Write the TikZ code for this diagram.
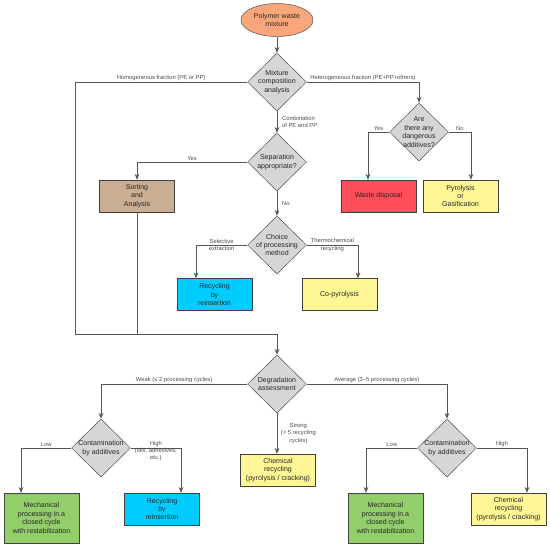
\documentclass[tikz,border=0pt]{standalone}
\usepackage{fontspec}
\setmainfont{Liberation Sans}
\usetikzlibrary{shapes.geometric, arrows.meta}
\definecolor{startorange}{RGB}{248,166,122}
\definecolor{decgray}{RGB}{214,214,214}
\definecolor{sortbrown}{RGB}{201,174,148}
\definecolor{wastered}{RGB}{255,77,90}
\definecolor{chemyellow}{RGB}{255,246,150}
\definecolor{reincyan}{RGB}{0,204,255}
\definecolor{mechgreen}{RGB}{146,206,106}
\definecolor{linegray}{RGB}{85,85,85}

\begin{document}
\begin{tikzpicture}[
    x=0.03cm, y=-0.03cm,
    every node/.style={font=\fontsize{6}{7.2}\selectfont, text=black!85},
    start/.style={ellipse, draw=black!70, fill=startorange, minimum width=2.16cm, minimum height=0.99cm, inner sep=0pt, align=center},
    decision/.style={diamond, draw=black!70, fill=decgray, minimum width=1.77cm, minimum height=1.74cm, inner sep=-3pt, align=center},
    process/.style={rectangle, draw=black!75, minimum width=2.25cm, minimum height=0.96cm, inner sep=1pt, align=center},
    tall/.style={minimum height=1.5cm},
    lbl/.style={font=\fontsize{5}{6.2}\selectfont, text=black!70, align=center, inner sep=1pt},
    flow/.style={draw=linegray, line width=0.6pt, -{Stealth[length=5pt, width=4pt]}},
    link/.style={draw=linegray, line width=0.6pt}
]
   \useasboundingbox (0,0) rectangle (550,547);

   % Nodes
   \node[start] (mix) at (277,20) {Polymer waste\\mixture};
   \node[decision] (mca) at (277,82) {Mixture\\composition\\analysis};
   \node[decision] (sep) at (277,162) {Separation\\appropriate?};
   \node[decision] (dang) at (419,132) {Are\\there any\\dangerous\\additives?};
   \node[process, fill=wastered] (waste) at (378.5,196) {Waste disposal};
   \node[process, fill=chemyellow] (gasif) at (460.5,196) {Pyrolysis\\or\\Gasification};
   \node[process, fill=sortbrown] (sort) at (137,196) {Sorting\\and\\Analysis};
   \node[decision] (choice) at (277,245) {Choice\\of processing\\method};
   \node[process, fill=reincyan] (reins) at (214.5,294.5) {Recycling\\by\\reinsertion};
   \node[process, fill=chemyellow] (copyr) at (339.5,294.5) {Co-pyrolysis};
   \coordinate (join) at (75,334);
   \node[decision] (deg) at (277,384) {Degradation\\assessment};
   \node[decision] (contl) at (101,448) {Contamination\\by additives};
   \node[decision] (contr) at (447,448) {Contamination\\by additives};
   \node[process, fill=chemyellow] (chemm) at (278,470) {Chemical\\recycling\\(pyrolysis / cracking)};
   \node[process, tall, fill=mechgreen] (mechl) at (41.5,518) {Mechanical\\processing in a\\closed cycle\\with restabilization};
   \node[process, fill=reincyan] (reinl) at (162,509) {Recycling\\by\\reinsertion};
   \node[process, tall, fill=mechgreen] (mechr) at (385.5,518) {Mechanical\\processing in a\\closed cycle\\with restabilization};
   \node[process, fill=chemyellow] (chemr) at (508.5,509) {Chemical\\recycling\\(pyrolysis / cracking)};

   % Connectors
   \draw[flow] (mix) -- (mca);
   \draw[flow] (mca.west) -| node[lbl, above, pos=.25] {Homogeneous fraction (PE or PP)} (join) -| (deg.north);
   \draw[flow] (mca.east) -| node[lbl, above, pos=.25] {Heterogeneous fraction (PE+PP+others)} (dang.north);
   \draw[flow] (mca) -- node[lbl, right=3pt, align=left] {Combination\\of PE and PP} (sep);

   \draw[flow] (dang.west) -| node[lbl, above, pos=.25] {Yes} ([xshift=-0.315cm]waste.north);
   \draw[flow] (dang.east) -| node[lbl, above, pos=.25] {No} ([xshift=0.315cm]gasif.north);

   \draw[flow] (sep.west) -| node[lbl, above, pos=.25] {Yes} (sort.north);
   \draw[flow] (sep) -- node[lbl, right=3pt] {No} (choice);
   \draw[link] (sort) -- (sort.south |- join);

   \draw[flow] (choice.west) -| node[lbl, pos=.25] {Selective\\extraction} ([xshift=-0.555cm]reins.north);
   \draw[flow] (choice.east) -| node[lbl, pos=.25] {Thermochemical\\recycling} ([xshift=0.555cm]copyr.north);

   \draw[flow] (deg.west) -| node[lbl, above, pos=.25] {Weak (≤ 2 processing cycles)} (contl.north);
   \draw[flow] (deg.east) -| node[lbl, above, pos=.25] {Average (3–5 processing cycles)} (contr.north);
   \draw[flow] (deg.south) -- node[lbl, right=2pt] {Strong\\(> 5 recycling\\cycles)} (deg.south |- chemm.north);

   \draw[flow] (contl.west) -| node[lbl, above, pos=.25] {Low} ([xshift=-0.615cm]mechl.north);
   \draw[flow] (contl.east) -| node[lbl, pos=.25, yshift=-2.6pt] {High\\(oils, adhesives,\\etc.)} ([xshift=0.57cm]reinl.north);
   \draw[flow] (contr.west) -| node[lbl, above, pos=.25] {Low} ([xshift=-0.585cm]mechr.north);
   \draw[flow] (contr.east) -| node[lbl, above, pos=.25] {High} ([xshift=0.555cm]chemr.north);

\end{tikzpicture}
\end{document}
